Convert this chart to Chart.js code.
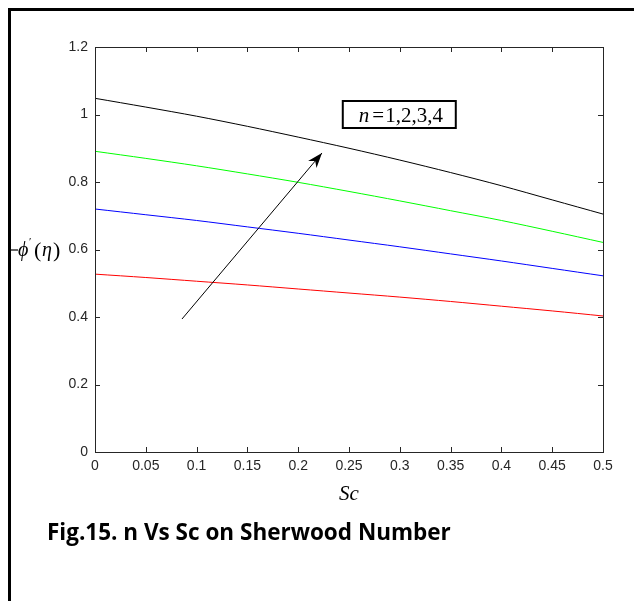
<!DOCTYPE html>
<html>
<head>
<meta charset="utf-8">
<script src="https://cdn.jsdelivr.net/npm/chart.js@4/dist/chart.umd.min.js"></script>
<style>
  html, body { margin: 0; padding: 0; background: #fff; }
  #wrap { position: relative; width: 634px; height: 601px; }
  #caption {
    position: absolute; left: 47px; top: 516px;
    font-family: "Open Sans", "Noto Sans", sans-serif; font-weight: bold;
    font-size: 22.5px; color: #000; white-space: nowrap;
  }
</style>
</head>
<body>
<div id="wrap">
  <canvas id="sherwood" width="634" height="601"></canvas>
  <div id="caption">Fig.15. n Vs Sc on Sherwood Number</div>
</div>
<script>
// Sc values along the x axis
const sc = [0, 0.05, 0.1, 0.15, 0.2, 0.25, 0.3, 0.35, 0.4, 0.45, 0.5];

// -phi'(eta) for n = 1..4
const n1 = [0.527, 0.517, 0.506, 0.495, 0.483, 0.471, 0.459, 0.446, 0.432, 0.418, 0.403];
const n2 = [0.720, 0.703, 0.686, 0.667, 0.648, 0.628, 0.608, 0.587, 0.566, 0.544, 0.522];
const n3 = [0.891, 0.870, 0.848, 0.824, 0.799, 0.772, 0.744, 0.715, 0.686, 0.654, 0.621];
const n4 = [1.048, 1.022, 0.995, 0.965, 0.933, 0.900, 0.865, 0.828, 0.789, 0.747, 0.705];

const seriesNames = ['n=1', 'n=2', 'n=3', 'n=4'];
const seriesColors = ['#ff0000', '#0000ff', '#00ff00', '#000000'];

// arrow (tail -> head) and label box position, in data units
const arrowFrom = [0.0856, 0.394];
const arrowTo = [0.2234, 0.886];
const boxAt = [0.299, 1.0];

const axisColor = '#262626';

function pts(ys) {
    return sc.map((x, i) => ({ x: x, y: ys[i] }));
}

function fmt(v) {
    return String(parseFloat(Number(v).toFixed(2)));
}

// frame, inward ticks, box, arrow and axis titles
const decor = {
    id: 'decor',
    afterDraw(chart) {
        const ctx = chart.ctx;
        const a = chart.chartArea;
        const xs = chart.scales.x, ys = chart.scales.y;
        ctx.save();

        // outer page frame
        ctx.strokeStyle = '#000';
        ctx.lineWidth = 3;
        ctx.beginPath();
        ctx.moveTo(9.5, 601);
        ctx.lineTo(9.5, 9.5);
        ctx.lineTo(634, 9.5);
        ctx.stroke();

        // axes box
        ctx.strokeStyle = axisColor;
        ctx.lineWidth = 1;
        ctx.strokeRect(Math.round(a.left) + 0.5, Math.round(a.top) + 0.5,
            Math.round(a.right - a.left), Math.round(a.bottom - a.top));

        // inward ticks
        const len = 5;
        ctx.beginPath();
        xs.ticks.forEach(t => {
            const px = Math.round(xs.getPixelForValue(t.value)) + 0.5;
            ctx.moveTo(px, a.bottom); ctx.lineTo(px, a.bottom - len);
            ctx.moveTo(px, a.top); ctx.lineTo(px, a.top + len);
        });
        ys.ticks.forEach(t => {
            const py = Math.round(ys.getPixelForValue(t.value)) + 0.5;
            ctx.moveTo(a.left, py); ctx.lineTo(a.left + len, py);
            ctx.moveTo(a.right, py); ctx.lineTo(a.right - len, py);
        });
        ctx.stroke();

        // arrow
        const x0 = xs.getPixelForValue(arrowFrom[0]), y0 = ys.getPixelForValue(arrowFrom[1]);
        const x1 = xs.getPixelForValue(arrowTo[0]), y1 = ys.getPixelForValue(arrowTo[1]);
        ctx.strokeStyle = '#000';
        ctx.fillStyle = '#000';
        ctx.lineWidth = 1;
        ctx.beginPath();
        ctx.moveTo(x0, y0); ctx.lineTo(x1, y1);
        ctx.stroke();
        const ang = Math.atan2(y1 - y0, x1 - x0);
        const hl = 15, hw = 5.5;
        const bx = x1 - hl * Math.cos(ang), by = y1 - hl * Math.sin(ang);
        const ix = x1 - hl * 0.7 * Math.cos(ang), iy = y1 - hl * 0.7 * Math.sin(ang);
        ctx.beginPath();
        ctx.moveTo(x1, y1);
        ctx.lineTo(bx + hw * Math.sin(ang), by - hw * Math.cos(ang));
        ctx.lineTo(ix, iy);
        ctx.lineTo(bx - hw * Math.sin(ang), by + hw * Math.cos(ang));
        ctx.closePath();
        ctx.fill();

        // label box
        const cx = xs.getPixelForValue(boxAt[0]), cy = ys.getPixelForValue(boxAt[1]);
        ctx.lineWidth = 2;
        ctx.strokeRect(cx - 56, cy - 13.5, 113, 27);
        ctx.textBaseline = 'alphabetic';
        ctx.textAlign = 'left';
        ctx.font = 'italic 21px "Liberation Serif"';
        let tx = cx - 40;
        ctx.fillText('n', tx, cy + 7);
        tx += ctx.measureText('n').width + 3;
        ctx.font = '21px "Liberation Serif"';
        ctx.fillText('=', tx, cy + 7);
        tx += ctx.measureText('=').width + 1;
        ctx.fillText('1,2,3,4', tx, cy + 7);

        // x axis title
        ctx.font = 'italic 21px "Liberation Serif"';
        ctx.textAlign = 'center';
        ctx.fillText('Sc', (a.left + a.right) / 2, 500);

        // y axis title: -phi'(eta)
        ctx.textAlign = 'left';
        const yb = (a.top + a.bottom) / 2 + 6;
        ctx.lineWidth = 1.2;
        ctx.beginPath();
        ctx.moveTo(11, yb - 5.5);
        ctx.lineTo(18, yb - 5.5);
        ctx.stroke();
        ctx.font = 'italic 20px "Liberation Serif"';
        ctx.fillText('\u03D5', 18, yb);
        ctx.font = '11px "Liberation Serif"';
        ctx.fillText('\u2032', 29, yb - 11);
        ctx.font = '22px "Liberation Serif"';
        ctx.fillText('(', 34, yb + 1);
        ctx.font = 'italic 20px "Liberation Serif"';
        ctx.fillText('\u03B7', 42, yb);
        ctx.font = '22px "Liberation Serif"';
        ctx.fillText(')', 53, yb + 1);

        ctx.restore();
    }
};

const cfg = {
    type: 'line',
    data: {
        datasets: [n1, n2, n3, n4].map((ys, i) => ({
            label: seriesNames[i],
            data: pts(ys),
            borderColor: seriesColors[i],
            borderWidth: 1,
            pointRadius: 0,
            tension: 0.3,
            fill: false
        }))
    },
    options: {
        responsive: false,
        animation: false,
        layout: { padding: { left: 0, top: 47, right: 31, bottom: 0 } },
        plugins: {
            legend: { display: false },
            tooltip: { enabled: false }
        },
        scales: {
            x: {
                type: 'linear',
                min: 0, max: 0.5,
                afterFit(s) { s.height = 149; },
                grid: { display: false, drawTicks: false },
                border: { display: false },
                ticks: {
                    stepSize: 0.05,
                    padding: 6,
                    color: axisColor,
                    font: { family: '"Liberation Sans", Arial', size: 14 },
                    callback: v => fmt(v)
                }
            },
            y: {
                min: 0, max: 1.2,
                afterFit(s) { s.width = 95; },
                grid: { display: false, drawTicks: false },
                border: { display: false },
                ticks: {
                    stepSize: 0.2,
                    padding: 7,
                    color: axisColor,
                    font: { family: '"Liberation Sans", Arial', size: 14 },
                    callback: v => fmt(v)
                }
            }
        }
    },
    plugins: [decor]
};

new Chart(document.getElementById('sherwood'), cfg);
</script>
</body>
</html>
